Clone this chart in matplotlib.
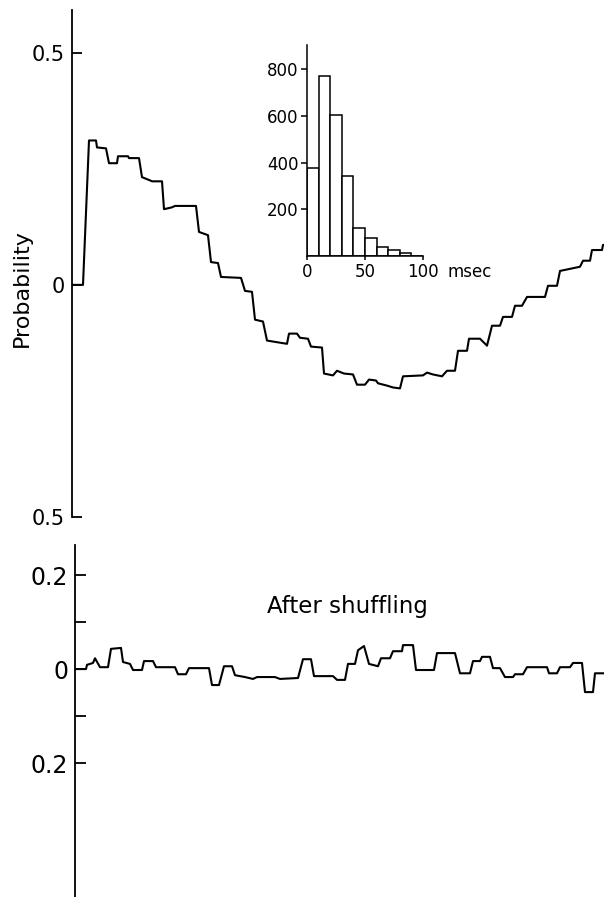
import numpy as np
import matplotlib
matplotlib.use("Agg")
import matplotlib.pyplot as plt
import matplotlib.transforms as mtransforms

# --------------------
# Data
# --------------------
# cross-correlation, original spike trains (lag in arbitrary units)
lag_orig = [1, 11, 17, 24, 25, 34, 37, 45, 46, 56, 57, 67, 70, 78, 80, 90,
            92, 100, 103, 124, 127, 136, 139, 146, 149, 169, 173, 180, 183,
            191, 195, 215, 217, 225, 228, 236, 239, 250, 252, 261, 265, 272,
            281, 285, 293, 297, 304, 306, 315, 321, 328, 331, 351, 355, 361,
            370, 375, 383, 386, 395, 397, 408, 415, 420, 428, 431, 440, 443,
            450, 455, 473, 476, 485, 488, 508, 511, 518, 520, 530, 531, 532]
prob_orig = [0, 0, 0.311, 0.311, 0.296, 0.294, 0.262, 0.262, 0.277, 0.277,
             0.273, 0.273, 0.232, 0.225, 0.223, 0.223, 0.163, 0.167, 0.170,
             0.170, 0.114, 0.107, 0.049, 0.047, 0.017, 0.015, -0.013, -0.015,
             -0.075, -0.079, -0.120, -0.127, -0.105, -0.105, -0.114, -0.116,
             -0.133, -0.135, -0.191, -0.195, -0.185, -0.191, -0.193, -0.215,
             -0.215, -0.204, -0.206, -0.212, -0.217, -0.221, -0.223, -0.197,
             -0.195, -0.189, -0.193, -0.197, -0.185, -0.185, -0.142, -0.142,
             -0.116, -0.116, -0.131, -0.088, -0.088, -0.069, -0.069, -0.045,
             -0.045, -0.026, -0.026, -0.002, -0.002, 0.030, 0.039, 0.052,
             0.052, 0.075, 0.075, 0.086, 0.086]

# after shuffling
lag_shuf = [5, 14, 15, 21, 23, 28, 36, 39, 49, 51, 58, 61, 70, 72, 81, 84,
            103, 106, 114, 117, 137, 140, 147, 152, 160, 163, 173, 181, 185,
            203, 208, 226, 231, 239, 242, 261, 265, 273, 276, 283, 286, 292,
            297, 306, 309, 318, 321, 330, 331, 341, 344, 362, 365, 383, 388,
            398, 401, 408, 410, 418, 421, 428, 433, 441, 443, 451, 455, 475,
            477, 485, 488, 498, 501, 510, 513, 521, 523, 532]
prob_shuf = [0, 0, 0.009, 0.013, 0.023, 0.004, 0.004, 0.043, 0.045, 0.015,
             0.011, -0.002, -0.002, 0.017, 0.017, 0.004, 0.004, -0.011,
             -0.011, 0.002, 0.002, -0.034, -0.034, 0.006, 0.006, -0.013,
             -0.017, -0.021, -0.017, -0.017, -0.021, -0.019, 0.021, 0.021,
             -0.015, -0.015, -0.023, -0.023, 0.011, 0.011, 0.040, 0.049,
             0.011, 0.006, 0.023, 0.023, 0.038, 0.038, 0.051, 0.051, -0.002,
             -0.002, 0.034, 0.034, -0.009, -0.009, 0.017, 0.017, 0.026, 0.026,
             0.002, 0.002, -0.017, -0.017, -0.011, -0.011, 0.004, 0.004,
             -0.009, -0.009, 0.004, 0.004, 0.013, 0.013, -0.049, -0.049,
             -0.009, -0.009]

# interval histogram (inset)
bin_left = [0, 10, 20, 30, 40, 50, 60, 70, 80, 90]
counts = [378, 772, 605, 343, 121, 76, 40, 24, 11, 2]

W, H = 604, 897

fig = plt.figure(figsize=(W / 100, H / 100), dpi=100)


def only_left_spine(ax):
    for s in ["top", "right", "bottom"]:
        ax.spines[s].set_visible(False)
    ax.spines["left"].set_linewidth(1.3)
    ax.set_xticks([])


# --------------------
# Top panel
# --------------------
ax1 = fig.add_axes([72 / W, 1 - 517 / H, 1 - 72 / W, (517 - 10) / H])
ax1.plot(lag_orig, prob_orig, color="black", lw=1.5)
ax1.set_xlim(0, 532)
ax1.set_ylim(-0.5, 0.592)
only_left_spine(ax1)
ax1.set_yticks([0.5, 0, -0.5])
ax1.set_yticklabels(["0.5", "0", "0.5"])
ax1.tick_params(axis="y", direction="in", length=7, width=1.3, pad=5,
                labelsize=15)
ax1.patch.set_alpha(0)

fig.text(22 / W, 1 - 288 / H, "Probability", rotation=90, ha="center",
         va="center", fontsize=16)

# --------------------
# Inset histogram
# --------------------
axi = fig.add_axes([307 / W, 1 - 256 / H, 116 / W, 211 / H])
axi.bar(bin_left, counts, width=10, align="edge", facecolor="white",
        edgecolor="black", lw=1.1)
axi.set_xlim(0, 100)
axi.set_ylim(0, 904)
for s in ["top", "right"]:
    axi.spines[s].set_visible(False)
axi.spines["left"].set_linewidth(1.1)
axi.spines["bottom"].set_linewidth(1.1)
axi.set_yticks([200, 400, 600, 800])
axi.set_xticks([0, 50, 100])
axi.tick_params(axis="both", direction="out", length=4, width=1.1, pad=2,
                labelsize=12)
axi.tick_params(axis="x", length=3)
trans = mtransforms.blended_transform_factory(axi.transData, axi.transAxes)
axi.text(121.5, -0.1, "msec", transform=trans, ha="left",
         va="baseline", fontsize=12)

# --------------------
# Bottom panel (after shuffling)
# --------------------
ax2 = fig.add_axes([75 / W, 0, 1 - 75 / W, 1 - 545 / H])
ax2.plot(lag_shuf, prob_shuf, color="black", lw=1.5)
ax2.set_xlim(3, 532)
ax2.set_ylim(-0.485, 0.264)
only_left_spine(ax2)
ax2.set_yticks([0.2, 0, -0.2])
ax2.set_yticklabels(["0.2", "0", "0.2"])
ax2.set_yticks([0.1, -0.1], minor=True)
ax2.tick_params(axis="y", which="both", direction="in", length=8, width=1.3,
                pad=5, labelsize=17)
ax2.text(195, 0.119, "After shuffling", fontsize=16.5, va="baseline",
         ha="left")

fig.savefig("out.png", dpi=100)
